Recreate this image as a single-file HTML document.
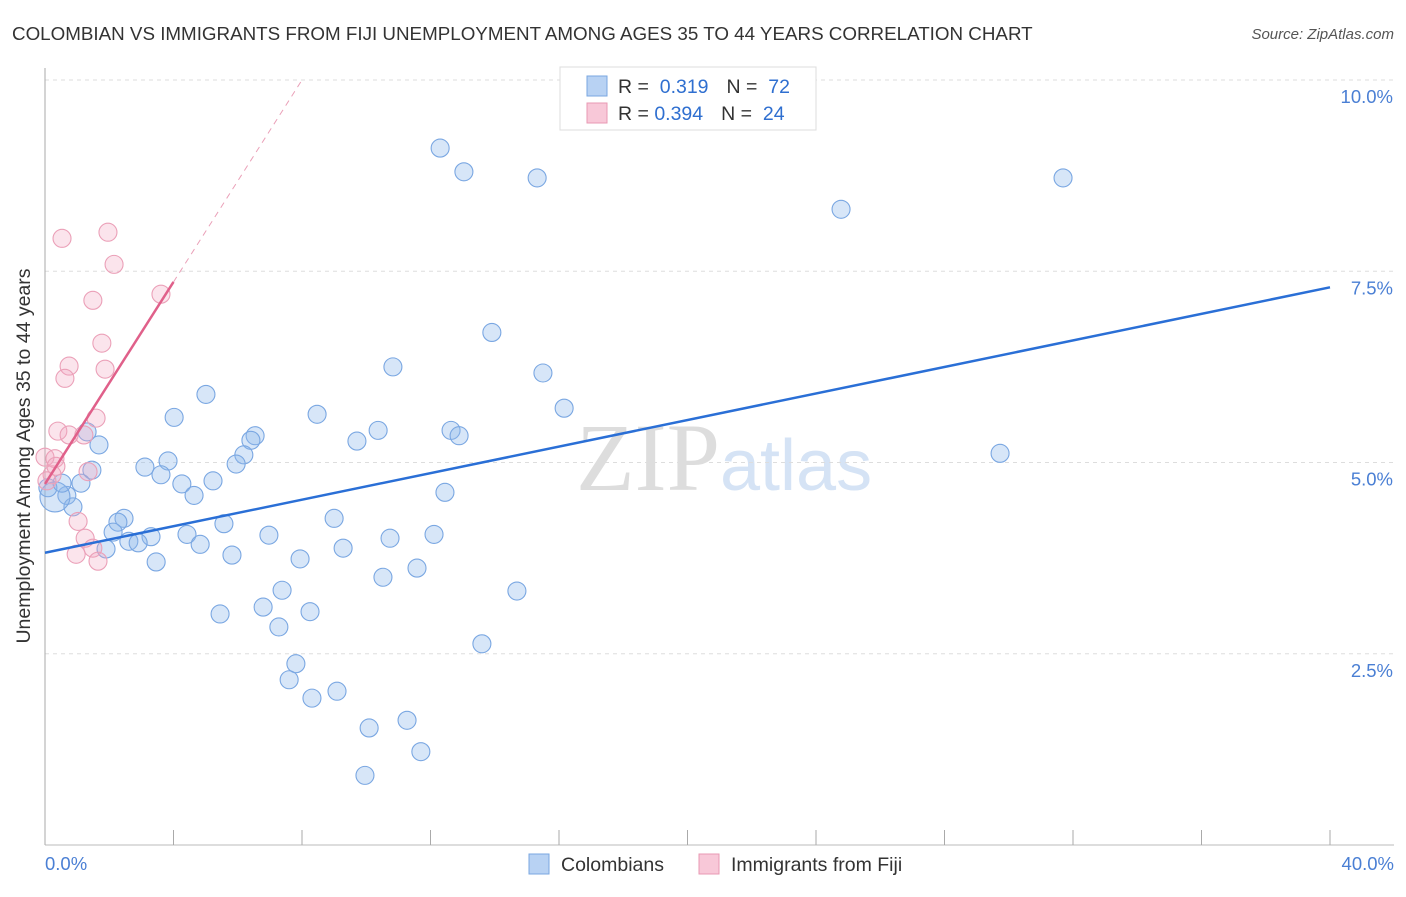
<!DOCTYPE html>
<html><head><meta charset="utf-8"><style>
body{margin:0;background:#fff;font-family:"Liberation Sans",sans-serif}
</style></head><body>
<svg width="1406" height="892" xmlns="http://www.w3.org/2000/svg" id="svg">
<text x="12" y="40" font-size="18.8" fill="#333">COLOMBIAN VS IMMIGRANTS FROM FIJI UNEMPLOYMENT AMONG AGES 35 TO 44 YEARS CORRELATION CHART</text>
<text x="1394" y="39" font-size="15" fill="#555" text-anchor="end" font-style="italic">Source: ZipAtlas.com</text>
<text x="720" y="490" font-size="96" fill="#ddd" text-anchor="end" font-family="Liberation Serif">ZIP</text>
<text x="720" y="490" font-size="72" fill="#d5e3f5">atlas</text>
<g id="grid"></g>
<line x1="45" y1="68" x2="45" y2="845" stroke="#aaa"/>
<line x1="45" y1="845" x2="1394" y2="845" stroke="#bbb"/>
<g id="ticks"></g>
<text x="30" y="456" font-size="19.5" fill="#333" text-anchor="middle" transform="rotate(-90 30 456)">Unemployment Among Ages 35 to 44 years</text>
<text x="45" y="870" font-size="18.5" fill="#4a7fd4">0.0%</text>
<text x="1394" y="870" font-size="18.5" fill="#4a7fd4" text-anchor="end">40.0%</text>
<g id="pts"></g>
<g id="lines"></g>
<g>
<rect x="560" y="67" width="256" height="63" fill="#fff" stroke="#ddd"/>
<rect x="587" y="76" width="20" height="20" fill="#b8d2f3" stroke="#7aa7e0"/>
<rect x="587" y="103" width="20" height="20" fill="#f8c8d8" stroke="#e899b3"/>
<text x="618" y="93" font-size="19.5" fill="#333">R = <tspan fill="#2f6fd0">&#160;0.319</tspan><tspan dx="18" fill="#333">N = </tspan><tspan fill="#2f6fd0">&#160;72</tspan></text>
<text x="618" y="120" font-size="19.5" fill="#333">R = <tspan fill="#2f6fd0">0.394</tspan><tspan dx="18" fill="#333">N = </tspan><tspan fill="#2f6fd0">&#160;24</tspan></text>
</g>
<g>
<rect x="529" y="854" width="20" height="20" fill="#b8d2f3" stroke="#7aa7e0"/>
<text x="561" y="871" font-size="19.5" fill="#333">Colombians</text>
<rect x="699" y="854" width="20" height="20" fill="#f8c8d8" stroke="#e899b3"/>
<text x="731" y="871" font-size="19.5" fill="#333">Immigrants from Fiji</text>
</g>
</svg>
<script>
const yTicks=[2.5,5.0,7.5,10.0];
const xTicks=[0,4,8,12,16,20,24,28,32,36,40];
const blueX=[12.30,13.04,15.32,31.69,24.78,13.91,10.83,15.50,5.01,16.16,4.02,8.47,12.64,12.89,10.37,9.71,6.54,6.41,1.68,1.31,6.19,3.83,5.95,3.11,1.46,3.61,5.23,4.26,1.12,4.64,12.45,29.73,0.68,0.87,0.31,0.09,0.53,9.00,2.46,2.27,5.57,2.12,12.11,6.97,10.74,3.30,2.61,2.90,4.42,4.83,9.28,1.90,5.82,3.46,7.94,11.58,10.52,7.38,14.69,6.79,8.25,5.45,7.28,13.60,7.81,7.60,9.09,8.31,11.27,10.09,11.70,9.96];
const blueY=[9.11,8.80,8.72,8.72,8.31,6.70,6.25,6.17,5.89,5.71,5.59,5.63,5.42,5.35,5.42,5.28,5.35,5.29,5.23,5.40,5.10,5.02,4.98,4.94,4.90,4.84,4.76,4.72,4.73,4.57,4.61,5.12,4.57,4.42,4.55,4.67,4.73,4.27,4.27,4.22,4.20,4.09,4.06,4.05,4.01,4.03,3.97,3.95,4.06,3.93,3.88,3.87,3.79,3.70,3.74,3.62,3.50,3.33,3.32,3.11,3.05,3.02,2.85,2.63,2.37,2.16,2.01,1.92,1.63,1.53,1.22,0.91];
const pinkX=[0.53,1.96,2.15,1.49,3.61,1.77,0.75,1.87,0.62,1.59,0.40,0.75,1.21,0.0,0.31,0.22,0.06,1.34,1.03,1.25,1.49,0.97,1.65,0.34];
const pinkY=[7.93,8.01,7.59,7.12,7.20,6.56,6.26,6.22,6.10,5.58,5.41,5.36,5.36,5.07,5.05,4.84,4.76,4.88,4.23,4.01,3.88,3.80,3.71,4.95];
const blueTrend=[3.82,7.29];
const pinkTrend=[4.72,7.36];
const X=v=>45+v*32.125, Y=v=>845-v*76.5;
const NS='http://www.w3.org/2000/svg';
function mk(t,a,p){const e=document.createElementNS(NS,t);for(const k in a)e.setAttribute(k,a[k]);p.appendChild(e);return e;}
const grid=document.getElementById('grid');
yTicks.forEach(t=>{
 const l=mk('line',{x1:45,x2:1394,y1:Y(t),y2:Y(t),stroke:'#ddd','stroke-dasharray':'4,4'},grid);
 
 
 const tx=mk('text',{x:1393,y:Y(t)+23,'font-size':18.5,fill:'#4a7fd4','text-anchor':'end'},grid);
 tx.textContent=t.toFixed(1)+'%';
 
 
});
const ticks=document.getElementById('ticks');
xTicks.forEach(t=>{
 const l=mk('line',{x1:X(t),x2:X(t),y1:830,y2:845,stroke:'#aaa'},ticks);
 
 
});
const pts=document.getElementById('pts');
blueX.forEach((x,i)=>{
 const c=mk('circle',{cx:X(x),cy:Y(blueY[i]),r:(i==34?15:9),fill:'rgba(140,182,235,0.35)',stroke:'#7aa7e2','stroke-width':1.1},pts);
 
 
});
pinkX.forEach((x,i)=>{
 const c=mk('circle',{cx:X(x),cy:Y(pinkY[i]),r:9,fill:'rgba(242,165,192,0.3)',stroke:'#eba0b8','stroke-width':1.1},pts);
 
 
});
const lines=document.getElementById('lines');
const bl=mk('line',{x1:X(0),y1:Y(blueTrend[0]),x2:X(40),y2:Y(blueTrend[1]),stroke:'#2a6fd6','stroke-width':2.5},lines);


const slope=(pinkTrend[1]-pinkTrend[0])/4;
const x10=(10-pinkTrend[0])/slope;
const pd=mk('line',{x1:X(4),y1:Y(pinkTrend[1]),x2:X(x10),y2:Y(10),stroke:'#eaa0b8','stroke-width':1,'stroke-dasharray':'6,5'},lines);


const pl=mk('line',{x1:X(0),y1:Y(pinkTrend[0]),x2:X(4),y2:Y(pinkTrend[1]),stroke:'#e0608a','stroke-width':2.5},lines);


</script>
</body></html>
